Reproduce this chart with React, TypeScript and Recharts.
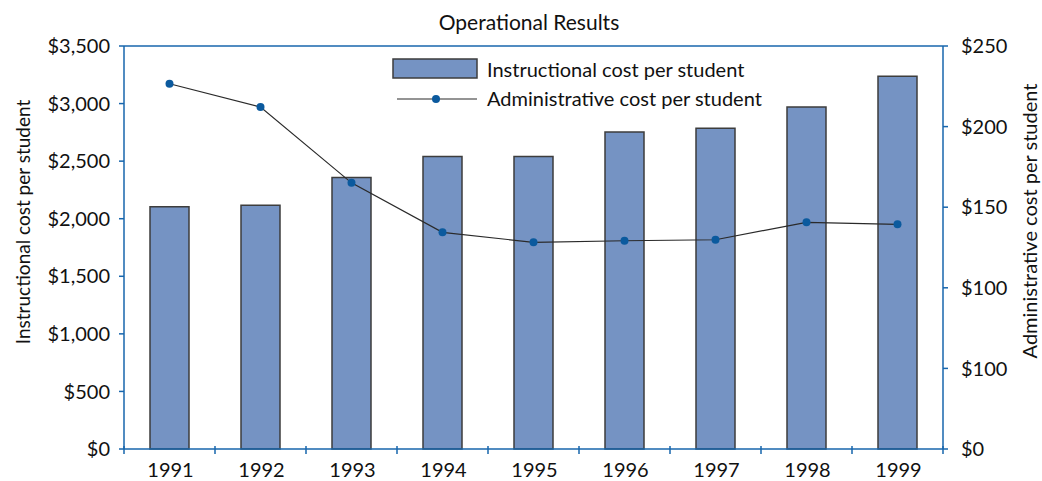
import React from "react";
import {
  ComposedChart,
  Bar,
  Line,
  XAxis,
  YAxis,
  ReferenceLine,
  Legend,
} from "recharts";

const years = ["1991", "1992", "1993", "1994", "1995", "1996", "1997", "1998", "1999"];
const instructionalCost = [2103, 2118, 2358, 2540, 2540, 2753, 2785, 2970, 3238];
const administrativeCost = [226.6, 212.1, 165.1, 134.4, 128.2, 129.2, 129.8, 140.6, 139.4];

const leftTicks = [0, 500, 1000, 1500, 2000, 2500, 3000, 3500];
const leftTickLabels = ["$0", "$500", "$1,000", "$1,500", "$2,000", "$2,500", "$3,000", "$3,500"];
const rightTicks = [0, 50, 100, 150, 200, 250];
const rightTickLabels = ["$0", "$100", "$100", "$150", "$200", "$250"];

const title = "Operational Results";
const barName = "Instructional cost per student";
const lineName = "Administrative cost per student";

const data = years.map((y, i) => ({
  year: y,
  instructional: instructionalCost[i],
  administrative: administrativeCost[i],
}));

const W = 1042;
const H = 481;
const PLOT_LEFT = 124;
const PLOT_RIGHT = 943;
const PLOT_TOP = 46;
const PLOT_BOTTOM = 449;
const BAND = (PLOT_RIGHT - PLOT_LEFT) / years.length;

const FONT = "Lato, 'Noto Sans', sans-serif";
const FS = 20;
const AXIS_BLUE = "#1766ad";
const BAR_FILL = "#7593c3";
const BAR_STROKE = "#3d3d3d";
const DOT_BLUE = "#0b5a9e";
const LINE_COLOR = "#2a2a2a";

const XTick = (props: any) => {
  const { x, payload, index } = props;
  const y = PLOT_BOTTOM;
  return (
    <g>
      <line x1={x - BAND / 2} x2={x - BAND / 2} y1={y - 3} y2={y + 5} stroke={AXIS_BLUE} strokeWidth={1.5} />
      {index === years.length - 1 && (
        <line x1={x + BAND / 2} x2={x + BAND / 2} y1={y - 3} y2={y + 5} stroke={AXIS_BLUE} strokeWidth={1.5} />
      )}
      <text x={x + 1} y={y + 20} textAnchor="middle" dominantBaseline="central" fontFamily={FONT} fontSize={FS} fill="#111">
        {payload.value}
      </text>
    </g>
  );
};

const renderLegend = () => (
  <svg width={400} height={60} style={{ display: "block", overflow: "visible" }}>
    <rect x={1} y={1} width={84} height={19} fill={BAR_FILL} stroke={BAR_STROKE} strokeWidth={1.5} />
    <text x={95} y={10.5} dominantBaseline="central" fontFamily={FONT} fontSize={FS} fill="#111">
      {barName}
    </text>
    <line x1={5} x2={85} y1={41} y2={41} stroke={LINE_COLOR} strokeWidth={1.2} />
    <circle cx={44} cy={41} r={4} fill={DOT_BLUE} />
    <text x={95} y={39.5} dominantBaseline="central" fontFamily={FONT} fontSize={FS} fill="#111">
      {lineName}
    </text>
  </svg>
);

export default function App() {
  return (
    <div style={{ position: "absolute", left: 0, top: 0, width: W, height: H, background: "#fff" }}>
      <div
        style={{
          position: "absolute",
          left: 0,
          top: 9,
          width: 1058,
          textAlign: "center",
          fontFamily: FONT,
          fontSize: 21,
          color: "#111",
          lineHeight: "26px",
        }}
      >
        {title}
      </div>
      <div style={{ position: "absolute", left: 0, top: 0 }}>
        <ComposedChart
          width={W}
          height={H}
          data={data}
          margin={{ top: PLOT_TOP, right: 0, bottom: 0, left: 0 }}
          barCategoryGap={0}
        >
          <XAxis
            dataKey="year"
            height={H - PLOT_BOTTOM}
            axisLine={{ stroke: AXIS_BLUE, strokeWidth: 1.5 }}
            tickLine={false}
            tick={<XTick />}
            interval={0}
          />
          <YAxis
            yAxisId="left"
            orientation="left"
            width={PLOT_LEFT}
            domain={[0, 3500]}
            ticks={leftTicks}
            interval={0}
            tickFormatter={(v: number) => leftTickLabels[leftTicks.indexOf(v)]}
            axisLine={{ stroke: AXIS_BLUE, strokeWidth: 1.5 }}
            tickLine={{ stroke: AXIS_BLUE, strokeWidth: 1.5 }}
            tickSize={5}
            tickMargin={9}
            tick={{ fontFamily: FONT, fontSize: FS, fill: "#111" }}
            label={(p: any) => (
              <text
                x={22}
                y={222}
                transform="rotate(-90 22 222)"
                textAnchor="middle"
                dominantBaseline="central"
                fontFamily={FONT}
                fontSize={19}
                fill="#111"
              >
                {barName}
              </text>
            )}
          />
          <YAxis
            yAxisId="right"
            orientation="right"
            width={W - PLOT_RIGHT}
            domain={[0, 250]}
            ticks={rightTicks}
            interval={0}
            tickFormatter={(v: number) => rightTickLabels[rightTicks.indexOf(v)]}
            axisLine={{ stroke: AXIS_BLUE, strokeWidth: 1.5 }}
            tickLine={{ stroke: AXIS_BLUE, strokeWidth: 1.5 }}
            tickSize={5}
            tickMargin={13}
            tick={{ fontFamily: FONT, fontSize: FS, fill: "#111" }}
            label={(p: any) => (
              <text
                x={1029}
                y={221}
                transform="rotate(-90 1029 221)"
                textAnchor="middle"
                dominantBaseline="central"
                fontFamily={FONT}
                fontSize={FS}
                fill="#111"
              >
                {lineName}
              </text>
            )}
          />
          <ReferenceLine yAxisId="left" y={3500} stroke={AXIS_BLUE} strokeWidth={1.5} />
          <Legend
            verticalAlign="middle"
            align="center"
            layout="horizontal"
            content={renderLegend}
            wrapperStyle={{ position: "absolute", left: 392, top: 58, width: 400, height: 60 }}
          />
          <Bar
            yAxisId="left"
            dataKey="instructional"
            name={barName}
            fill={BAR_FILL}
            stroke={BAR_STROKE}
            strokeWidth={1.5}
            barSize={39}
            isAnimationActive={false}
          />
          <Line
            yAxisId="right"
            dataKey="administrative"
            name={lineName}
            stroke={LINE_COLOR}
            strokeWidth={1.2}
            dot={{ r: 4, fill: DOT_BLUE, stroke: "none" }}
            activeDot={false}
            isAnimationActive={false}
          />
        </ComposedChart>
      </div>
    </div>
  );
}
